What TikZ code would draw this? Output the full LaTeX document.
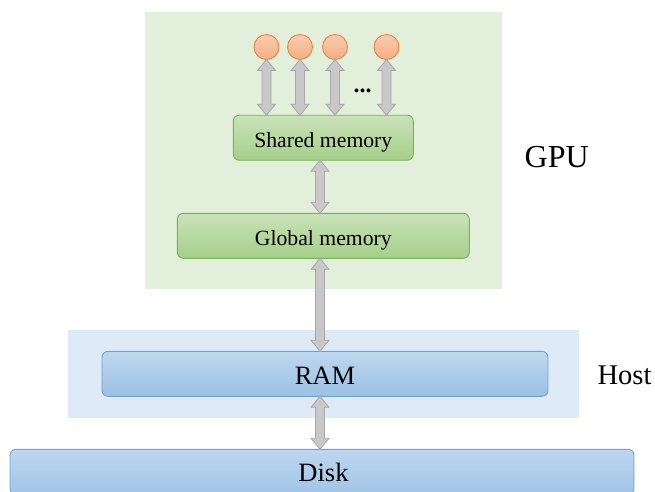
\documentclass[tikz,border=0pt]{standalone}
\usepackage{fontspec}
\setmainfont{Liberation Serif}
\newfontfamily\tnr{Liberation Serif}
\usetikzlibrary{calc}
\definecolor{gpubg}{HTML}{E2EFDA}
\definecolor{hostbg}{HTML}{DEEBF7}
\definecolor{gtop}{HTML}{C9E2B8}
\definecolor{gbot}{HTML}{A5CF8B}
\definecolor{gedge}{HTML}{78B450}
\definecolor{btop}{HTML}{BED7EE}
\definecolor{bbot}{HTML}{9CC1E5}
\definecolor{bedge}{HTML}{6FA3D8}
\definecolor{ctop}{HTML}{F9CDB0}
\definecolor{cbot}{HTML}{F4AE83}
\definecolor{cedge}{HTML}{EE8142}
\definecolor{afill}{HTML}{C8C8C8}
\definecolor{aedge}{HTML}{A8A8A8}
\tikzset{
  gbox/.style={rectangle, rounded corners=6pt, draw=gedge, line width=0.9pt,
    top color=gtop, bottom color=gbot, outer sep=0pt, inner sep=0pt,
    minimum height=45pt, font=\tnr\fontsize{21.7}{25}\selectfont,
    text height=19pt, text depth=0pt},
  bbox/.style={rectangle, rounded corners=6pt, draw=bedge, line width=0.9pt,
    top color=btop, bottom color=bbot, outer sep=0pt, inner sep=0pt,
    minimum height=45pt, font=\tnr\fontsize{26.5}{30}\selectfont,
    text height=21pt, text depth=0pt},
  thread/.style={circle, draw=cedge, line width=0.9pt, top color=ctop,
    bottom color=cbot, minimum size=25pt, inner sep=0pt, outer sep=0pt},
  darrow/.style={fill=afill, draw=aedge, line width=0.8pt, line join=miter},
  side/.style={font=\tnr\fontsize{32}{36}\selectfont, inner sep=0pt, anchor=base},
}
\newcommand\dblarr[2]{%
  \draw[darrow] let \p1=(#1), \p2=(#2) in
    (\x1,\y1) -- (\x1+9pt,\y1-11pt) -- (\x1+4.5pt,\y1-11pt) --
    (\x1+4.5pt,\y2+11pt) -- (\x1+9pt,\y2+11pt) -- (\x1,\y2) --
    (\x1-9pt,\y2+11pt) -- (\x1-4.5pt,\y2+11pt) -- (\x1-4.5pt,\y1-11pt) --
    (\x1-9pt,\y1-11pt) -- cycle;}
\begin{document}
\begin{tikzpicture}[x=1pt,y=-1pt]
\useasboundingbox (0,0) rectangle (655,491);
\clip (0,0) rectangle (655,491);
% backgrounds
\fill[gpubg] (145,12) rectangle (502,289);
\fill[hostbg] (68,330) rectangle (579,418);
% boxes
\node[gbox, minimum width=180pt] (sm) at (323.3,137.7) {Shared memory};
\node[gbox, minimum width=292pt] (gm) at (323.3,235.8) {Global memory};
\node[bbox, minimum width=446pt] (ram) at (325,373.8) {RAM};
\node[bbox, minimum width=624pt, minimum height=45pt, anchor=north,
  top color=btop, bottom color=bbot!85!btop] (disk) at (322,449.3) {};
\node[font=\tnr\fontsize{26.5}{30}\selectfont, inner sep=0pt, anchor=base] (disklabel) at (323.5,481.7) {Disk};
% threads
\node[thread] (c1) at (266.5,47) {};
\node[thread] (c2) at (300,47) {};
\node[thread] (c3) at (335,47) {};
\node[thread] (c4) at (386.5,47) {};
\node[font=\tnr\fontsize{24}{26}\selectfont\bfseries, inner sep=0pt, anchor=base] (dots) at (362.5,92.5) {...};
% labels
\node[side] (gpu) at (556.7,167.5) {GPU};
\node[side, font=\tnr\fontsize{28.5}{33}\selectfont] (host) at (624.5,384.3) {Host};
% arrows
\dblarr{c1.south}{sm.north -| c1}
\dblarr{c2.south}{sm.north -| c2}
\dblarr{c3.south}{sm.north -| c3}
\dblarr{c4.south}{sm.north -| c4}
\coordinate (ax) at (320,0);
\dblarr{sm.south -| ax}{gm.north -| ax}
\dblarr{gm.south -| ax}{ram.north -| ax}
\dblarr{ram.south -| ax}{disk.north -| ax}
\end{tikzpicture}
\end{document}
